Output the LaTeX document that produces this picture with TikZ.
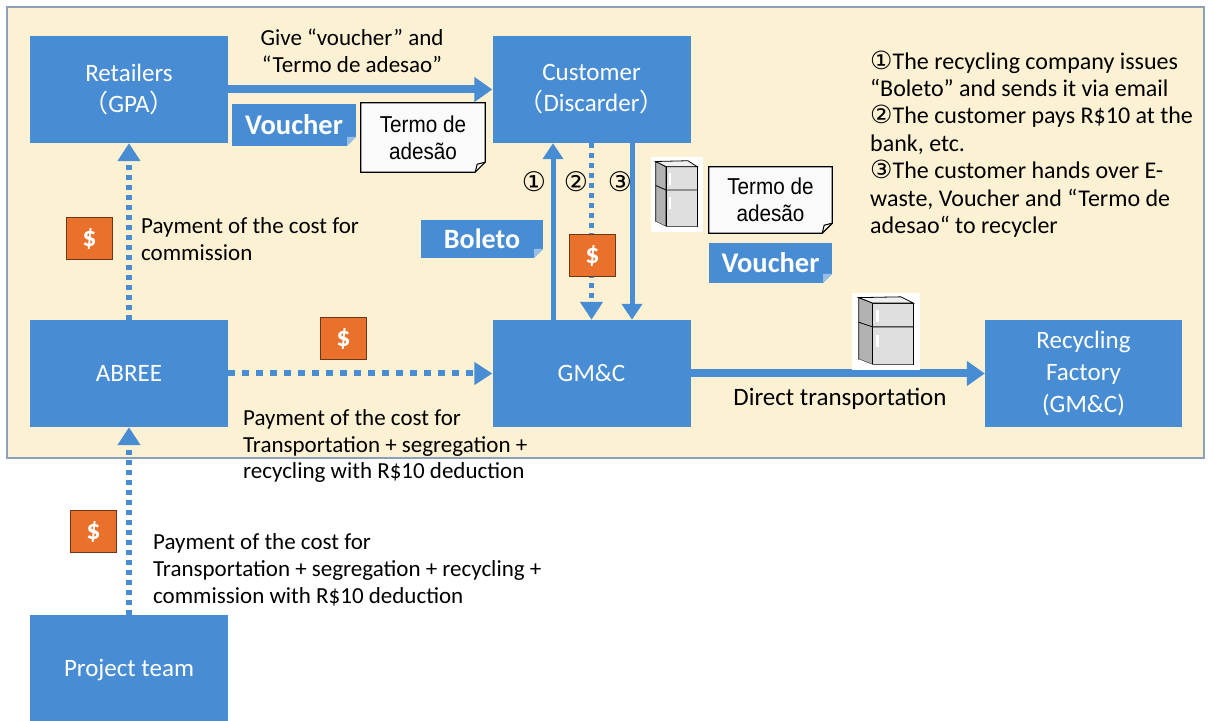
\documentclass[tikz,border=0pt]{standalone}
\usepackage{fontspec}
\setmainfont{Carlito}
\newfontfamily\notefont[FakeStretch=0.9]{Liberation Sans}
\newfontfamily\symfont{DejaVu Sans}
\newfontfamily\cjkfont{Noto Sans CJK JP}
\usetikzlibrary{arrows.meta}
\definecolor{boxblue}{RGB}{72,141,212}
\definecolor{tagfold}{RGB}{150,190,230}
\definecolor{panel}{RGB}{253,241,211}
\definecolor{panelline}{RGB}{140,160,185}
\definecolor{cashorange}{RGB}{233,113,44}
\definecolor{cashline}{RGB}{110,55,25}
% circled step numbers
\newcommand\cnum[2][25]{{\symfont\fontsize{#1}{#1}\selectfont #2}}
% outline of a note with a turned-down corner
\newcommand\noteline[1]{%
  \draw[line width=1.2pt] (#1.north west) -- (#1.north east) -- ([yshift=10pt]#1.south east)
    -- ([xshift=-10pt]#1.south east) -- (#1.south west) -- cycle;
  \draw[line width=1pt] ([yshift=10pt]#1.south east) -- ([xshift=-8pt,yshift=8pt]#1.south east)
    -- ([xshift=-10pt]#1.south east);}
\begin{document}
\begin{tikzpicture}[x=1pt,y=1pt,
  actor/.style={fill=boxblue,text=white,inner sep=0pt,minimum width=198pt,minimum height=107pt,
    align=center,font=\fontsize{25}{31}\selectfont},
  tag/.style={fill=boxblue,text=white,inner sep=0pt,font=\bfseries\fontsize{28.5}{30}\selectfont,
    path picture={\fill[panel] (path picture bounding box.south east) -- ++(-9,0) -- ++(9,9) -- cycle;
      \fill[tagfold] (path picture bounding box.south east) ++(-9,0) -- ++(9,9) -- ++(-9,0) -- cycle;}},
  note/.style={fill=gray!4,inner sep=0pt,align=center,font=\notefont\fontsize{23}{27}\selectfont,
    path picture={\fill[panel] (path picture bounding box.south east) -- ++(-10,0) -- ++(10,10) -- cycle;}},
  cash/.style={fill=cashorange,draw=cashline,line width=1pt,text=white,minimum width=46pt,
    minimum height=42pt,inner sep=0pt,font=\bfseries\fontsize{28}{28}\selectfont},
  % fridge drawn around the node centre, in units of the node size
  fridge/.style 2 args={fill=white,inner sep=0pt,minimum width=#1,minimum height=#2,
    path picture={\begin{scope}[x=#1,y=#2,line width=0.8pt]
      \filldraw[fill=gray!60] (-0.4,-0.36) -- (-0.2,-0.43) -- (-0.2,0.37) -- (-0.4,0.44) -- cycle;
      \filldraw[fill=gray!25] (-0.2,-0.43) rectangle (0.4,0.37);
      \filldraw[fill=gray!12] (-0.4,0.44) -- (-0.2,0.37) -- (0.4,0.37) -- (0.22,0.45) -- cycle;
      \fill (-0.4,-0.36) -- (-0.4,-0.42) -- (-0.2,-0.49) -- (0.4,-0.49) -- (0.4,-0.43) -- (-0.2,-0.43) -- cycle;
      \draw (-0.4,0.12) -- (-0.2,0.06) -- (0.4,0.06);
      \fill (-0.14,0.12) rectangle (-0.1,0.28);
      \fill (-0.14,-0.2) rectangle (-0.1,-0.04);
    \end{scope}}},
  flow/.style={draw=boxblue,line width=8pt,-{Triangle[width=24pt,length=18pt]}},
  link/.style={draw=boxblue,line width=5pt,-{Triangle[width=20pt,length=16pt]}},
  pay/.style={draw=boxblue,line width=6pt,dash pattern=on 5pt off 5pt,-{Triangle[width=22pt,length=18pt]}},
  txt/.style={align=left,inner sep=0pt,font=\fontsize{23}{26.8}\selectfont}]
\useasboundingbox (0,0) rectangle (1214,720);
\draw[panelline,fill=panel,line width=2pt] (7,713) rectangle (1204,262);

% parties
\node[actor] (ret) at (129,630.5) {Retailers\\{\cjkfont （}GPA{\cjkfont ）}};
\node[actor] (cust) at (591.5,630.5) {Customer\\{\cjkfont （}Discarder{\cjkfont ）}};
\node[actor] (abree) at (129,346.5) {ABREE};
\node[actor] (gmc) at (591.5,346.5) {GM\&C};
\node[actor,minimum width=197pt,font=\fontsize{25}{32}\selectfont] (fact) at (1083.5,346.5) {Recycling\\Factory\\(GM\&C)};
\node[actor,minimum height=110pt] (proj) at (129,50) {Project team};

% flows of goods and money
\draw[flow] (ret.east) -- (cust.west);
\draw[pay] (abree) -- (ret);
\draw[pay,dash pattern=on 7pt off 7pt] (abree) -- (gmc);
\draw[pay] (proj) -- (abree);
\draw[flow] (gmc) -- (fact);
\draw[link] ([xshift=-38.5pt]gmc.north) -- ([xshift=-38.5pt]cust.south);
\draw[pay,line width=5pt] (cust) -- (gmc);
\draw[link] ([xshift=40.5pt]cust.south) -- ([xshift=40.5pt]gmc.north);

% documents and money
\node[tag,minimum width=124pt,minimum height=42pt] (vouA) at (294,595) {Voucher};
\node[note,minimum width=124pt,minimum height=69pt] (termA) at (423,582.5) {Termo de\\adesão};
\noteline{termA}
\node[tag,minimum width=122pt,minimum height=38pt,font=\bfseries\fontsize{28}{28}\selectfont] (boleto) at (482,481) {Boleto};
\node[note,minimum width=123pt,minimum height=66pt] (termB) at (770.5,520) {Termo de\\adesão};
\noteline{termB}
\node[tag,minimum width=123pt,minimum height=40pt] (vouB) at (770.5,457) {Voucher};
\node[fridge={52pt}{75pt}] (fridgeA) at (676.5,525.5) {};
\node[fridge={68pt}{77pt}] (fridgeB) at (886,388.5) {};
\node[cash] (cashA) at (89.5,481) {\$};
\node[cash] (cashB) at (343.5,381) {\$};
\node[cash] (cashC) at (592.5,464) {\$};
\node[cash] (cashD) at (93.5,188.5) {\$};

% labels
\node[txt,align=center] (giveTxt) at (352,669) {Give “voucher” and\\“Termo de adesao”};
\node[txt,anchor=west] (payRet) at (141,481) {Payment of the cost for\\commission};
\node[txt,anchor=west] (payGmc) at (243,274) {Payment of the cost for\\Transportation + segregation +\\recycling with R\$10 deduction};
\node[txt,anchor=west] (payAbree) at (153,150) {Payment of the cost for\\Transportation + segregation + recycling +\\commission with R\$10 deduction};
\node[txt,font=\fontsize{25}{26}\selectfont] (directTxt) at (840,321) {Direct transportation};
\node (stepA) at (534,538) {\cnum[27]{①}};
\node (stepB) at (576,538) {\cnum[27]{②}};
\node (stepC) at (620,538) {\cnum[27]{③}};
\node[txt,anchor=west,font=\fontsize{24}{27.4}\selectfont] (steps) at (870,576)
  {\cnum{①}The recycling company issues\\“Boleto” and sends it via email\\\cnum{②}The customer pays R\$10 at the\\bank, etc.\\\cnum{③}The customer hands over E-\\waste, Voucher and “Termo de\\adesao“ to recycler};
\end{tikzpicture}
\end{document}
